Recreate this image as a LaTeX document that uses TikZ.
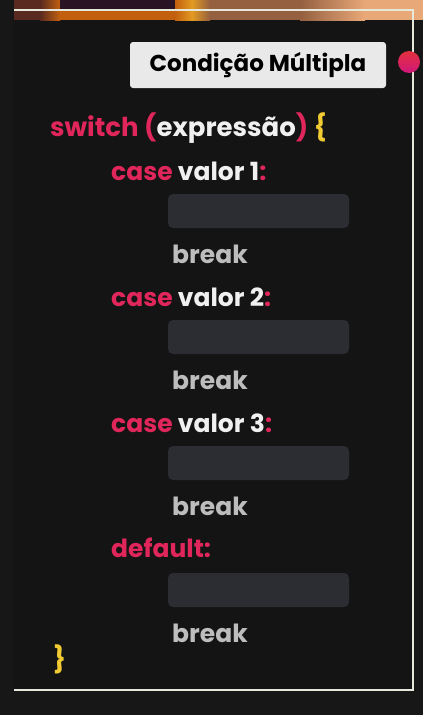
\documentclass[tikz,border=0pt]{standalone}
\usepackage{fontspec}
\setmainfont{Poppins}
\definecolor{bgdark}{HTML}{141414}
\definecolor{bgside}{HTML}{171717}
\definecolor{kwred}{HTML}{E0265A}
\definecolor{txtwhite}{HTML}{F0F0F0}
\definecolor{brkgrey}{HTML}{BDBDBD}
\definecolor{brcyellow}{HTML}{F2CB32}
\definecolor{slotgrey}{HTML}{2B2D33}
\definecolor{tagbg}{HTML}{E9E9E9}
\definecolor{rimline}{HTML}{E6E8DC}
\definecolor{stripbrown}{HTML}{946040}
\definecolor{stripdark}{HTML}{5A2A20}
\definecolor{striporange}{HTML}{C2600F}
\definecolor{stripgold}{HTML}{E39A22}
\definecolor{strippurple}{HTML}{2A1424}
\definecolor{strippeach}{HTML}{E9A878}
\definecolor{dotred}{HTML}{E2303E}
\definecolor{dotpink}{HTML}{D0187A}

\tikzset{
  code/.style={anchor=base west,inner sep=0pt,font=\bfseries\fontsize{25}{25}\selectfont},
  head/.style={code,font=\bfseries\fontsize{26}{26}\selectfont},
  brk/.style={code,text=brkgrey},
  slot/.style={fill=slotgrey,rounded corners=5pt},
  tag/.style={fill=tagbg,rounded corners=3pt,minimum width=256pt,minimum height=46pt,
    inner sep=0pt,font=\bfseries\fontsize{23}{23}\selectfont,text=black}
}

\begin{document}
\begin{tikzpicture}[x=1pt,y=-1pt]
  \useasboundingbox (0,0) rectangle (423,715);
  \fill[bgside] (0,0) rectangle (423,715);
  \fill[bgdark] (14,20) rectangle (413,690);
  % top strip
  \fill[stripbrown] (14,0) rectangle (423,20);
  \fill[stripdark] (14,0) rectangle (40,20);
  \shade[left color=stripdark,right color=striporange] (40,0) rectangle (60,20);
  \fill[striporange] (60,0) rectangle (180,20);
  \fill[strippurple] (60,0) rectangle (175,9);
  \shade[left color=striporange,right color=stripgold] (175,0) rectangle (192,20);
  \shade[left color=stripgold,right color=stripbrown] (192,0) rectangle (210,20);
  \shade[left color=stripbrown,right color=strippeach] (300,0) rectangle (365,20);
  \fill[strippeach] (365,0) rectangle (423,20);
  \draw[rimline,line width=2pt] (14,10) -- (413,10) -- (413,690) -- (14,690);

  % title tag and dot
  \node[tag] (title) at (258,65) {Condição Múltipla};
  \shade[shading angle=135,top color=dotred,bottom color=dotpink] (409,62) circle (11);

  % code
  \node[head,text=kwred] (sw) at (50,136) {switch (\textcolor{txtwhite}{expressão}) \textcolor{brcyellow}{\{}};
  \foreach \n/\y in {1/180,2/306,3/432}
    \node[code,text=kwred] (case\n) at (111,\y) {case \textcolor{txtwhite}{valor \n}:};
  \node[code,text=kwred] (dflt) at (111,557) {default:};
  \foreach \n/\y in {1/194,2/320,3/446,4/573} {
    \fill[slot] (168,\y) rectangle ++(181,34);
    \node[brk] (brk\n) at (172,\y+69) {break};
  }
  \node[head,text=brcyellow] (close) at (53,668) {\}};
\end{tikzpicture}
\end{document}
